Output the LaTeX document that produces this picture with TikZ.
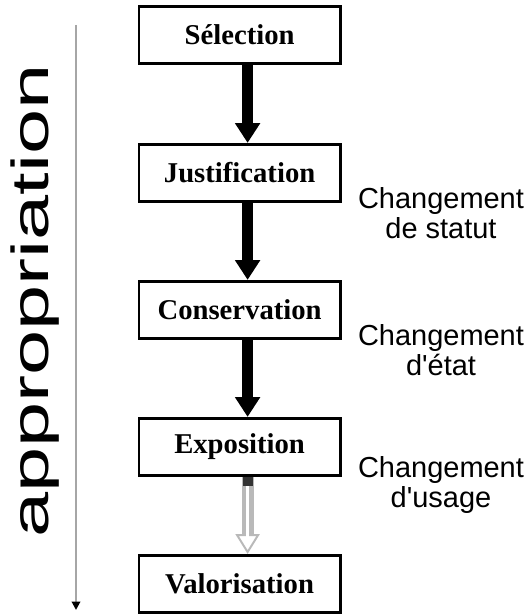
\documentclass[tikz,border=0pt]{standalone}
\usepackage{fontspec}
\setmainfont{Liberation Serif}
\newfontfamily\labelfont{Liberation Sans}
\usetikzlibrary{arrows.meta}

\begin{document}
\begin{tikzpicture}[
  stage/.style={draw, line width=2.1pt, minimum width=5.03cm, minimum height=1.43cm,
    inner sep=0pt, font=\bfseries\fontsize{20.4}{22}\selectfont},
  change/.style={align=center, font=\labelfont\fontsize{20.6}{21.5}\selectfont},
  bigarrow/.style={line width=7.5pt, -{Triangle[length=14pt, width=17pt]}},
  hollowarrow/.style={draw=gray!55, line width=8.5pt,
    -{Triangle[length=14pt, width=17pt, line width=1.4pt, fill=white]},
    postaction={draw=white, line width=2.2pt, -, shorten >=12pt}},
  axis/.style={gray!70, line width=1.4pt, -{Triangle[length=6pt, width=6pt, color=black]}}
]
\useasboundingbox (0,0) rectangle (13.125,15.35);

\draw (5.99,14.475) node[stage](sel) {Sélection};
\draw (5.99,11.025) node[stage](just) {Justification};
\draw (5.99,7.6) node[stage](cons) {Conservation};
\draw (5.99,4.175) node[stage](expo) {Exposition};
\draw (5.99,0.75) node[stage](valo) {Valorisation};

\draw (11.025,10.025) node[change](statut) {Changement\\de statut};
\draw (11.025,6.6) node[change](etat) {Changement\\d'état};
\draw (11.025,3.225) node[change](usage) {Changement\\d'usage};

\draw[bigarrow] ([xshift=0.2cm]sel.south) -- ([xshift=0.2cm]just.north);
\draw[bigarrow] ([xshift=0.2cm]just.south) -- ([xshift=0.2cm]cons.north);
\draw[bigarrow] ([xshift=0.2cm]cons.south) -- ([xshift=0.2cm]expo.north);
\draw[hollowarrow] ([xshift=0.2cm]expo.south) -- ([xshift=0.2cm]valo.north);
\draw[black!80, line width=7pt] ([xshift=0.2cm]expo.south) -- ++(0,-0.22);

% axe d'appropriation
\coordinate (top) at (1.9,14.725);
\coordinate (bottom) at (1.9,0.1);
\draw[axis] (top) -- (bottom);
\draw (1.2,7.825) node[rotate=90, anchor=base, inner sep=0pt](appro)
  {\scalebox{1.56}[1]{\labelfont\fontsize{37}{40}\selectfont appropriation}};
\end{tikzpicture}
\end{document}
